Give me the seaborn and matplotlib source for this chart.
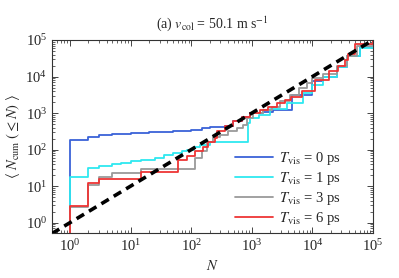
import numpy as np
import pandas as pd
import matplotlib
matplotlib.use('Agg')
import matplotlib.pyplot as plt
import seaborn as sns

# cumulative number <N_cum(<=N)>, step curves
n_t0 = [1, 1, 2, 3, 5, 10, 20, 50, 100, 150, 200, 360, 490, 680, 930, 1500, 2240, 4600, 10000, 15000, 25000, 37000, 60000, 100000]
y_t0 = [0.1, 186, 228, 250, 265, 280, 295, 315, 340, 390, 420, 430, 590, 800, 1000, 1100, 1230, 3200, 7400, 10000, 18000, 36000, 65000, 100000]

n_t1 = [1, 1, 2, 3, 5, 7, 10, 15, 25, 35, 50, 70, 85, 110, 140, 200, 870, 930, 1300, 2000, 3800, 7000, 10000, 15000, 25000, 37000, 60000, 100000]
y_t1 = [0.1, 17.7, 31, 36, 40, 44, 48, 53, 60, 70, 82, 92, 100, 118, 135, 166, 540, 740, 900, 1300, 1900, 3500, 6000, 10000, 18000, 36000, 60000, 100000]

n_t3 = [1, 1, 2, 3, 5, 15, 115, 150, 180, 230, 300, 400, 560, 720, 820, 1050, 1530, 2130, 2900, 4300, 6000, 8000, 10000, 15000, 25000, 37000, 55000, 100000]
y_t3 = [0.1, 2.7, 11, 18, 23, 29, 58, 89, 166, 226, 250, 313, 385, 470, 720, 1000, 1230, 1500, 2100, 3160, 5000, 6700, 9100, 12000, 19000, 36000, 70000, 100000]

n_t6 = [1, 1, 2, 3, 15, 60, 85, 115, 156, 190, 250, 265, 360, 490, 680, 930, 1370, 1850, 2600, 3500, 4500, 6600, 11000, 19000, 26000, 35000, 39000, 50000, 100000]
y_t6 = [0.1, 2.9, 12, 15.6, 25, 53, 65, 89, 121, 166, 206, 313, 430, 590, 800, 1000, 1230, 1500, 1860, 2300, 2800, 4000, 8200, 14000, 19000, 29000, 41000, 80000, 100000]

t_vis = [0, 1, 3, 6]
colors = ['#3a62d8', '#2ee8f0', '#9a9a9a', '#ee3535']

rows = []
for t, ns, ys in zip(t_vis, [n_t0, n_t1, n_t3, n_t6], [y_t0, y_t1, y_t3, y_t6]):
    for i, (n, y) in enumerate(zip(ns, ys)):
        rows.append({'N': n, 'Ncum': y, 'label': rf'$T_{{\rm vis}}$ = {t} ps', 'order': i})
df = pd.DataFrame(rows)

sns.set_style('ticks')
plt.rcParams['font.family'] = ['Liberation Serif', 'DejaVu Serif']
plt.rcParams['mathtext.fontset'] = 'stix'

fig = plt.figure(figsize=(3.99, 2.78), dpi=100)
ax = fig.add_axes([0.130, 0.162, 0.805, 0.694])

for lab, c in zip(df['label'].unique(), colors):
    sub = df[df['label'] == lab].sort_values('order')
    ax.plot(sub['N'], sub['Ncum'], drawstyle='steps-post', color=c, lw=1.3, label=lab)

# one-to-one line
ref = pd.DataFrame({'N': [0.5, 1e5], 'Ncum': [0.5, 1e5]})
sns.lineplot(data=ref, x='N', y='Ncum', ax=ax, color='black', lw=2.6,
             linestyle=(0, (2.4, 1.6)), estimator=None, zorder=5)

ax.set_xscale('log')
ax.set_yscale('log')
ax.set_xlim(0.5, 1e5)
ax.set_ylim(0.52, 1e5)
ax.tick_params(which='both', direction='in', top=True, right=True, labelsize=10.5)
ax.tick_params(which='major', length=4, width=0.6)
ax.tick_params(which='minor', length=2, width=0.5)
ax.set_xticks([1, 10, 100, 1e3, 1e4, 1e5])
ax.set_yticks([1, 10, 100, 1e3, 1e4, 1e5])
for s in ax.spines.values():
    s.set_linewidth(0.8)
    s.set_color('#333333')

ax.set_xlabel(r'$N$', fontsize=10.5, labelpad=4)
ax.set_ylabel(r'$\langle\ N_{\rm cum}\ (\leq N)\ \rangle$', fontsize=10.5, labelpad=2)
ax.set_title(r'(a) $v_{\rm col}$ = 50.1 m s$^{-1}$', fontsize=10, pad=9)

ax.legend(loc='lower right', bbox_to_anchor=(0.916, 0.0), frameon=False, fontsize=10.5,
          handlelength=2.6, labelspacing=0.2, handletextpad=0.4, borderaxespad=0.0)

fig.savefig('out.png', dpi=100)
